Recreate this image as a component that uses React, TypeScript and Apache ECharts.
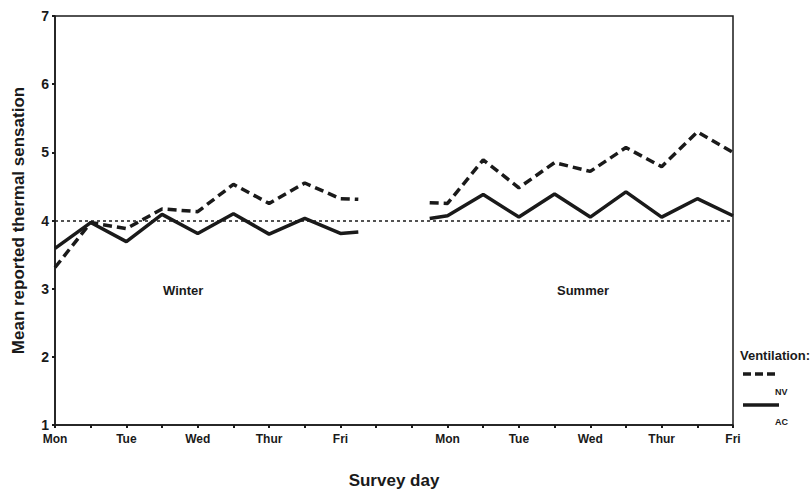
import React, { useEffect, useRef } from "react";
import * as echarts from "echarts";

// x positions in half-day steps (0 = winter Mon AM ... 19 = summer Fri)
const winterX = [0, 1, 2, 3, 4, 5, 6, 7, 8, 8.5];
const summerX = [10.5, 11, 12, 13, 14, 15, 16, 17, 18, 19];

const winterNV = [3.31, 3.97, 3.88, 4.17, 4.13, 4.53, 4.25, 4.55, 4.32, 4.31];
const winterAC = [3.59, 3.97, 3.69, 4.09, 3.81, 4.1, 3.8, 4.03, 3.81, 3.83];
const summerNV = [4.26, 4.25, 4.89, 4.48, 4.85, 4.72, 5.07, 4.79, 5.3, 5.0];
const summerAC = [4.03, 4.07, 4.38, 4.05, 4.39, 4.05, 4.42, 4.05, 4.32, 4.07];

const dayLabels = [
  "Mon", "", "Tue", "", "Wed", "", "Thur", "", "Fri", "", "",
  "Mon", "", "Tue", "", "Wed", "", "Thur", "", "Fri",
];
const yTicks = [1, 2, 3, 4, 5, 6, 7];
const referenceLevel = 4;

const FONT = "'Liberation Sans', Arial, sans-serif";
const INK = "#1a1a1a";

function pairs(xs: number[], ys: number[]) {
  return xs.map((x, i) => [x, ys[i]]);
}

export default function App() {
  const ref = useRef<HTMLDivElement>(null);
  useEffect(() => {
    if (!ref.current) return;
    const chart = echarts.init(ref.current, undefined, { renderer: "svg" });
    const nvStyle = { color: INK, width: 3.5, type: [9, 5] as any };
    const acStyle = { color: INK, width: 3.5, type: "solid" as any };
    chart.setOption({
      animation: false,
      backgroundColor: "#ffffff",
      grid: {
        left: 55,
        right: 79,
        top: 16,
        bottom: 72,
        show: true,
        borderColor: INK,
        borderWidth: 1.5,
      },
      xAxis: {
        type: "value",
        min: 0,
        max: dayLabels.length - 1,
        interval: 1,
        splitLine: { show: false },
        axisLine: { lineStyle: { color: INK, width: 1.5 } },
        axisTick: { show: true, length: 3, lineStyle: { color: INK, width: 2 } },
        axisLabel: {
          color: INK,
          fontFamily: FONT,
          fontWeight: "bold",
          fontSize: 12,
          margin: 8,
          showMinLabel: true,
          showMaxLabel: true,
          formatter: (v: number) => dayLabels[Math.round(v)] ?? "",
        },
        name: "Survey day",
        nameLocation: "middle",
        nameGap: 47,
        nameTextStyle: { color: INK, fontFamily: FONT, fontWeight: "bold", fontSize: 17 },
      },
      yAxis: {
        type: "value",
        min: yTicks[0],
        max: yTicks[yTicks.length - 1],
        interval: 1,
        splitLine: { show: false },
        axisLine: { show: true, lineStyle: { color: INK, width: 1.5 } },
        axisTick: { show: true, length: 3, lineStyle: { color: INK, width: 2 } },
        axisLabel: { color: INK, fontFamily: FONT, fontWeight: "bold", fontSize: 14, margin: 6 },
        name: "Mean reported thermal sensation",
        nameLocation: "middle",
        nameRotate: 90,
        nameGap: 28,
        nameTextStyle: { color: INK, fontFamily: FONT, fontWeight: "bold", fontSize: 17 },
      },
      series: [
        {
          type: "line",
          name: "NV winter",
          data: pairs(winterX, winterNV),
          showSymbol: false,
          lineStyle: nvStyle,
          markLine: {
            silent: true,
            symbol: "none",
            label: { show: false },
            lineStyle: { color: INK, width: 1.5, type: [3, 3] },
            data: [{ yAxis: referenceLevel }],
          },
        },
        {
          type: "line",
          name: "AC winter",
          data: pairs(winterX, winterAC),
          showSymbol: false,
          lineStyle: acStyle,
        },
        {
          type: "line",
          name: "NV summer",
          data: pairs(summerX, summerNV),
          showSymbol: false,
          lineStyle: nvStyle,
        },
        {
          type: "line",
          name: "AC summer",
          data: pairs(summerX, summerAC),
          showSymbol: false,
          lineStyle: acStyle,
        },
      ],
      graphic: [
        {
          type: "text",
          left: 163,
          top: 284,
          style: { text: "Winter", fill: INK, font: `bold 13px ${FONT}` },
        },
        {
          type: "text",
          left: 557,
          top: 284,
          style: { text: "Summer", fill: INK, font: `bold 13px ${FONT}` },
        },
        {
          type: "text",
          left: 740,
          top: 349,
          style: { text: "Ventilation:", fill: INK, font: `bold 13px ${FONT}` },
        },
        {
          type: "line",
          shape: { x1: 743, y1: 374, x2: 778, y2: 374 },
          style: { stroke: INK, lineWidth: 3.5, lineDash: [8, 4] },
        },
        {
          type: "text",
          left: 775,
          top: 387,
          style: { text: "NV", fill: INK, font: `bold 9px ${FONT}` },
        },
        {
          type: "line",
          shape: { x1: 743, y1: 405, x2: 779, y2: 405 },
          style: { stroke: INK, lineWidth: 3.5 },
        },
        {
          type: "text",
          left: 775,
          top: 417,
          style: { text: "AC", fill: INK, font: `bold 9px ${FONT}` },
        },
      ],
    });
    return () => chart.dispose();
  }, []);
  return (
    <div
      ref={ref}
      style={{ position: "fixed", left: 0, top: 0, width: 812, height: 497, background: "#fff" }}
    />
  );
}
